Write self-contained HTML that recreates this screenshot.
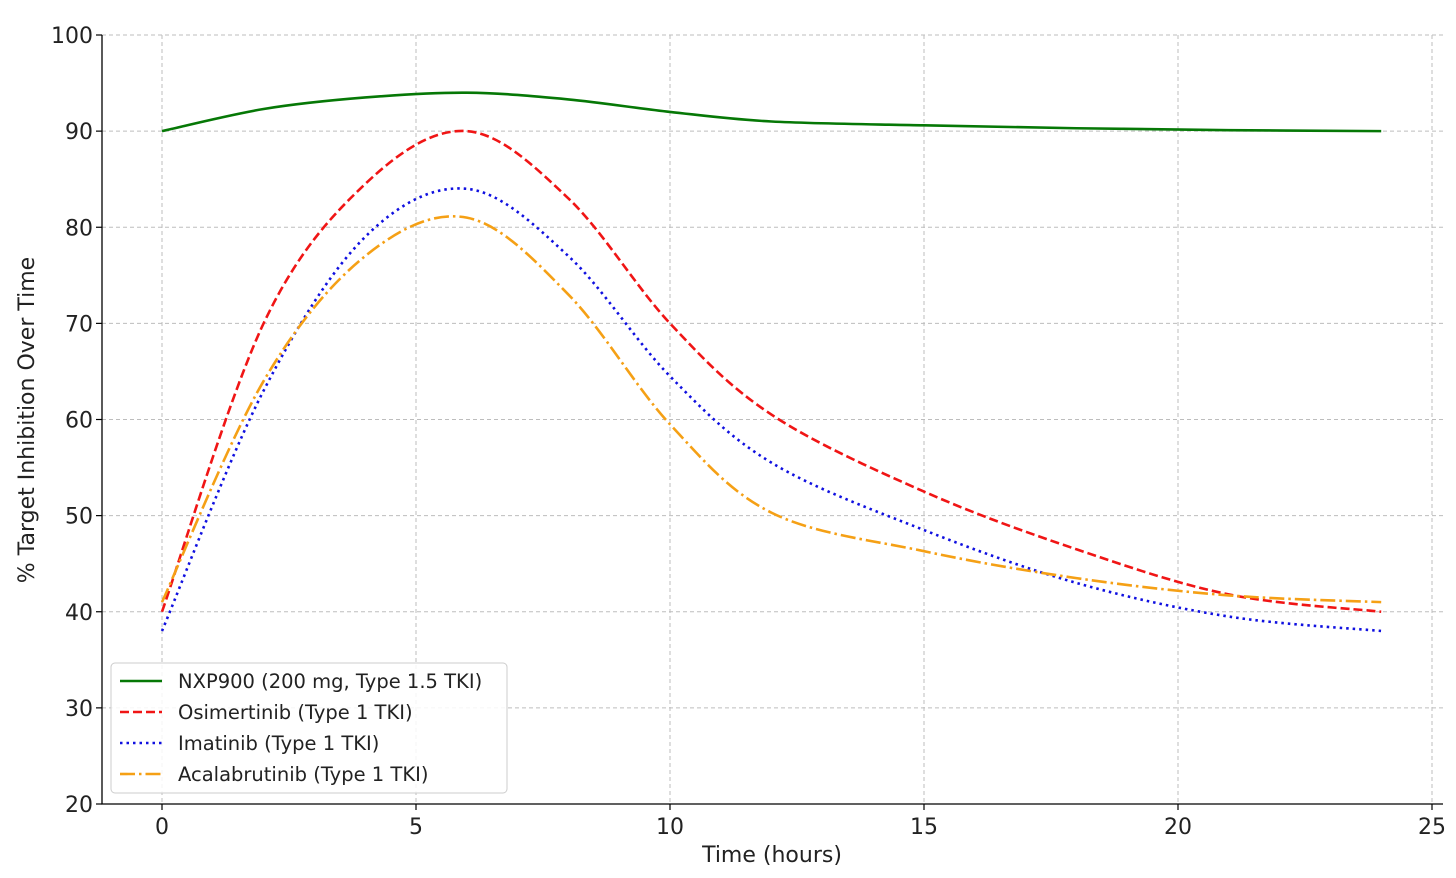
<!DOCTYPE html>
<html><head><meta charset="utf-8"><style>
body{margin:0;background:#fff}
svg text{font-family:"DejaVu Sans","Liberation Sans",sans-serif;fill:#222}
</style></head><body>
<svg id="chart" width="1456" height="873" xmlns="http://www.w3.org/2000/svg">
<g id="grid"></g>
<g id="series"></g>
<g id="axes"></g>
<text x="772" y="862" text-anchor="middle" font-size="22">Time (hours)</text>
<text transform="translate(34,420) rotate(-90)" text-anchor="middle" font-size="22">% Target Inhibition Over Time</text>
<g id="legend"></g>
</svg>
<script>
const times=[0,2,4,6,8,10,12,15,18,21,24];
const nxp900=[90,92.3,93.5,94,93.3,92,91,90.6,90.3,90.1,90];
const osimertinib=[40,70,84.5,90,83,70,60.5,52.5,46.5,41.8,40];
const imatinib=[38,63,79,84,77,64.5,55.5,48.5,43,39.5,38];
const acalabrutinib=[41,64,77,81,73,59.5,50.3,46.3,43.5,41.7,41];
const xTicks=[0,5,10,15,20,25];
const yTicks=[20,30,40,50,60,70,80,90,100];
const seriesNames=["NXP900 (200 mg, Type 1.5 TKI)","Osimertinib (Type 1 TKI)","Imatinib (Type 1 TKI)","Acalabrutinib (Type 1 TKI)"];

const NS="http://www.w3.org/2000/svg";
const L=102,R=1443,T=35,B=804;
const X=v=>162+v*50.8;
const Y=v=>B-(v-20)*(B-T)/80;
function mk(tag,parent,attrs){const e=document.createElementNS(NS,tag);for(const k in attrs)e.setAttribute(k,attrs[k]);parent.appendChild(e);return e;}
const grid=document.getElementById('grid'),axes=document.getElementById('axes'),ser=document.getElementById('series'),leg=document.getElementById('legend');
xTicks.forEach(t=>{
 const g=mk('line',grid,{x1:X(t),x2:X(t),y1:T,y2:B,stroke:'#bdbdbd','stroke-dasharray':'4,3','stroke-width':1});
 
 
 const tk=mk('line',axes,{x1:X(t),x2:X(t),y1:B,y2:B+6,stroke:'#000','stroke-width':1.2});
 
 
 const tx=mk('text',axes,{x:X(t),y:B+30,'text-anchor':'middle','font-size':22});
 tx.textContent=t;
 
 
});
yTicks.forEach(t=>{
 const g=mk('line',grid,{x1:L,x2:R,y1:Y(t),y2:Y(t),stroke:'#bdbdbd','stroke-dasharray':'4,3','stroke-width':1});
 
 
 const tk=mk('line',axes,{x1:L-6,x2:L,y1:Y(t),y2:Y(t),stroke:'#000','stroke-width':1.2});
 
 
 const tx=mk('text',axes,{x:L-9,y:Y(t)+8,'text-anchor':'end','font-size':22});
 tx.textContent=t;
 
 
});
const ax=mk('path',axes,{d:`M${L},${T}V${B}H${R}`,fill:'none',stroke:'#000','stroke-width':1.3});


function curve(vals){
 const p=times.map((t,i)=>[X(t),Y(vals[i])]);
 let d=`M${p[0][0]},${p[0][1]}`;
 for(let i=0;i<p.length-1;i++){
  const p0=p[i-1]||p[i],p1=p[i],p2=p[i+1],p3=p[i+2]||p[i+1];
  const c1=[p1[0]+(p2[0]-p0[0])/6,p1[1]+(p2[1]-p0[1])/6];
  const c2=[p2[0]-(p3[0]-p1[0])/6,p2[1]-(p3[1]-p1[1])/6];
  d+=`C${c1[0]},${c1[1]} ${c2[0]},${c2[1]} ${p2[0]},${p2[1]}`;
 }
 return d;
}
const styles=[
 {v:nxp900,c:'#067806',dash:'',n:'line-nxp900'},
 {v:osimertinib,c:'#f01515',dash:'9,4',n:'line-osimertinib'},
 {v:imatinib,c:'#1010e0',dash:'2.5,4',n:'line-imatinib'},
 {v:acalabrutinib,c:'#f5a015',dash:'15,4,2.5,4',n:'line-acalabrutinib'}];
styles.forEach((s,i)=>{
 const pth=mk('path',ser,{d:curve(s.v),fill:'none',stroke:s.c,'stroke-width':2.6,'stroke-dasharray':s.dash});
 
 
});
const box=mk('rect',leg,{x:111,y:663,width:396,height:130,rx:4,fill:'#fff','fill-opacity':0.85,stroke:'#ccc'});


styles.forEach((s,i)=>{
 const y=681+i*31;
 const ln=mk('line',leg,{x1:120,x2:162,y1:y,y2:y,stroke:s.c,'stroke-width':2.6,'stroke-dasharray':s.dash});
 
 
 const tx=mk('text',leg,{x:178,y:y+7,'font-size':19.5});
 tx.textContent=seriesNames[i];
 
 
});
</script>
</body></html>
